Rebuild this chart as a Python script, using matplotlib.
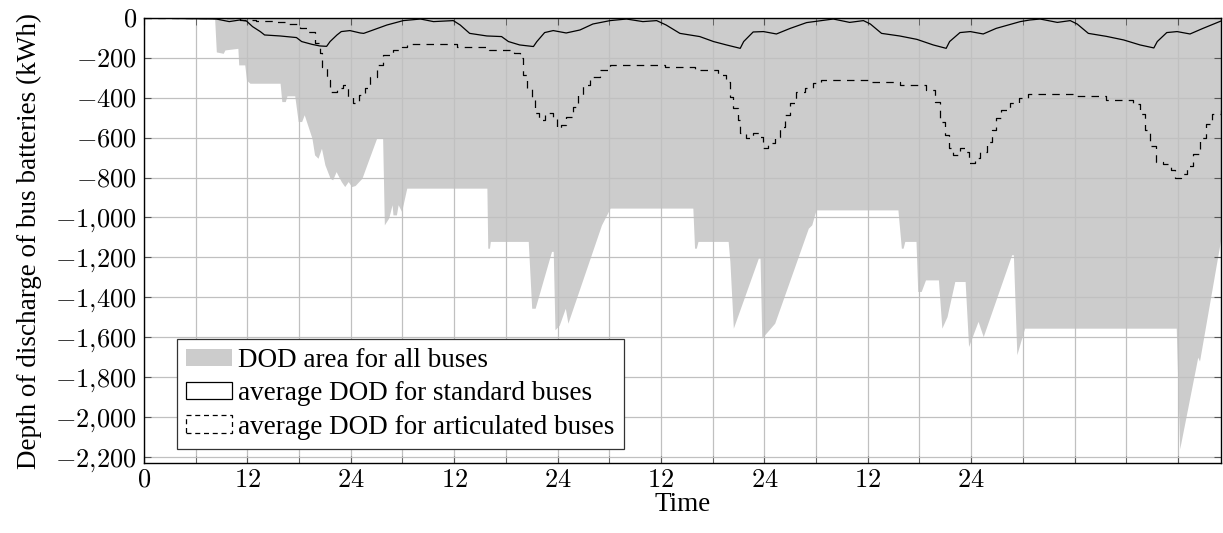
import matplotlib
matplotlib.use("Agg")
import matplotlib.pyplot as plt
from matplotlib.patches import Patch
from matplotlib.ticker import FuncFormatter, MultipleLocator

plt.rcParams['font.family'] = ['Liberation Serif', 'DejaVu Serif']
plt.rcParams['mathtext.fontset'] = 'cm'

# lower envelope of DOD over all buses (hours, kWh)
area_hours = [0, 8.2, 8.4, 9.2, 9.4, 10.9, 11.0, 11.7, 11.9, 12.3, 15.8, 16.0, 16.4, 16.6,
              17.5, 17.9, 18.3, 18.6, 19.5, 19.8, 20.2, 20.6, 21.0, 21.6, 21.9, 22.3, 22.9,
              23.3, 23.7, 24.1, 24.5, 25.3, 26.0, 27.0, 27.7, 27.9, 28.4, 28.8, 28.9, 29.3,
              29.5, 29.9, 30.5, 39.8, 39.9, 40.1, 40.2, 44.6, 45.0, 45.4, 47.3, 47.5, 47.7,
              48.2, 48.9, 49.2, 53.1, 54.1, 63.7, 63.9, 64.1, 64.3, 67.8, 68.0, 68.4, 71.3,
              71.5, 71.7, 73.2, 77.1, 77.5, 78.0, 87.5, 87.9, 88.1, 88.3, 89.6, 89.8, 90.2,
              90.7, 92.2, 92.6, 93.2, 94.1, 95.3, 95.7, 96.8, 97.4, 100.7, 100.9, 101.3,
              102.2, 119.8, 120.2, 122.3, 122.5, 125.0]
area_dod = [0, 0, -170, -177, -160, -152, -235, -235, -311, -327, -327, -419, -419, -390,
            -390, -519, -519, -485, -603, -686, -703, -653, -736, -803, -811, -770, -820,
            -845, -820, -845, -840, -803, -720, -603, -603, -1037, -1003, -936, -987, -987,
            -936, -970, -853, -853, -1154, -1154, -1120, -1120, -1455, -1455, -1170, -1170, -1563,
            -1540, -1455, -1530, -1037, -953, -953, -1154, -1154, -1120, -1120, -1221, -1555, -1204,
            -1204, -1605, -1530, -1054, -1037, -962, -962, -1154, -1154, -1120, -1120, -1371, -1371,
            -1313, -1313, -1555, -1497, -1321, -1321, -1647, -1521, -1597, -1187, -1187, -1688,
            -1555, -1555, -2160, -1700, -1720, -1100]

# average DOD, standard buses
std_hours = [0, 8.4, 9.9, 11.1, 11.9, 12.6, 13.5, 14.0, 15.8, 17.7, 18.3, 19.5, 20.4, 21.2,
             21.6, 22.4, 22.9, 23.9, 25.1, 25.5, 26.6, 28.2, 30.1, 32.1, 33.6, 35.9, 36.7,
             37.8, 39.8, 41.5, 42.3, 43.6, 45.2, 45.6, 46.5, 47.5, 49.0, 50.6, 52.1, 54.1,
             56.0, 57.9, 59.5, 60.6, 62.2, 64.5, 66.1, 67.6, 69.2, 69.6, 70.7, 71.9, 73.4,
             75.0, 76.9, 80.0, 81.9, 83.5, 84.3, 85.6, 87.7, 89.7, 91.6, 93.1, 93.5, 94.7,
             95.9, 97.4, 98.9, 101.7, 102.8, 104.0, 106.0, 107.5, 108.3, 109.6, 111.7, 113.7,
             115.6, 117.2, 117.6, 118.7, 119.9, 121.4, 122.9, 125.0]
std_dod = [0, -5, -18, -10, -15, -43, -68, -85, -90, -98, -118, -132, -140, -142,
           -118, -85, -68, -63, -75, -77, -60, -35, -13, -5, -18, -13, -35,
           -77, -90, -93, -118, -135, -143, -118, -73, -63, -75, -60, -30, -13,
           -5, -18, -13, -35, -77, -93, -118, -135, -152, -118, -70, -68, -80,
           -52, -23, -5, -22, -13, -30, -77, -90, -107, -135, -152, -118, -73,
           -68, -80, -52, -18, -10, -5, -22, -13, -30, -77, -92, -110,
           -135, -150, -118, -73, -68, -80, -52, -15]

# average DOD, articulated buses
art_hours = [0, 11.1, 13.0, 15.0, 16.6, 18.1, 19.0, 19.8, 20.4, 20.7, 21.2, 21.6, 22.4, 23.1,
             23.7, 24.3, 24.9, 25.6, 26.2, 27.0, 27.8, 28.9, 29.9, 30.5, 36.3, 40.0, 42.9,
             43.6, 44.0, 44.5, 45.0, 45.4, 45.8, 46.5, 47.5, 47.9, 48.4, 49.0, 49.8, 50.4,
             51.0, 51.8, 52.9, 54.1, 60.5, 63.9, 66.6, 67.6, 68.0, 68.4, 68.9, 69.2, 69.9,
             70.7, 71.4, 71.9, 72.4, 73.2, 73.8, 74.4, 75.0, 75.7, 76.7, 77.7, 78.6, 84.3,
             87.7, 90.8, 91.8, 92.4, 93.0, 93.4, 93.9, 94.7, 95.3, 95.7, 96.4, 97.0, 97.8,
             98.4, 98.9, 99.5, 100.5, 101.5, 102.6, 108.3, 111.7, 114.8, 115.6, 116.2, 116.8,
             117.5, 118.3, 119.2, 119.7, 120.4, 121.0, 121.8, 122.5, 123.2, 124.0, 125.0]
art_dod = [0, -10, -15, -20, -30, -52, -68, -127, -177, -244, -311, -369, -352, -336,
           -394, -427, -386, -352, -294, -235, -185, -160, -144, -132, -144, -160, -177,
           -202, -286, -352, -411, -477, -510, -477, -494, -553, -536, -494, -444, -386,
           -336, -294, -260, -235, -244, -260, -286, -319, -394, -453, -511, -578, -603,
           -578, -595, -653, -628, -595, -545, -486, -428, -369, -349, -327, -311, -319,
           -336, -361, -419, -519, -586, -653, -686, -653, -670, -728, -703, -670, -620,
           -561, -503, -461, -427, -403, -382, -390, -410, -430, -480, -560, -640,
           -720, -730, -760, -800, -780, -740, -680, -600, -530, -480, -460]

# only nine labels are given; the last two ticks stay unlabelled
x_ticks = [0, 12, 24, 36, 48, 60, 72, 84, 96, 108, 120]
x_labels = ['0', '12', '24', '12', '24', '12', '24', '12', '24', '', '']

fig = plt.figure(figsize=(12.23, 5.33), dpi=100)
ax = fig.add_axes([0.1177, 0.1313, 0.8807, 0.8349])

ax.fill_between(area_hours, area_dod, 0, color='#cccccc', linewidth=0, zorder=1)
ax.plot(std_hours, std_dod, color='black', lw=0.9, zorder=3)
ax.plot(art_hours, art_dod, drawstyle='steps-post', color='black', lw=0.9,
        linestyle=(0, (6, 5)), zorder=3)

ax.set_xlim(0, 125)
ax.set_ylim(-2231, 0)
ax.set_xticks(x_ticks)
ax.set_xticklabels(['$%s$' % s if s else '' for s in x_labels])
ax.xaxis.set_minor_locator(MultipleLocator(6))
ax.yaxis.set_major_locator(MultipleLocator(200))
ax.yaxis.set_major_formatter(FuncFormatter(
    lambda v, p: '$0$' if v == 0 else '$-%s$' % format(int(round(-v)), ',').replace(',', '{,}')))

ax.set_axisbelow('line')
ax.grid(True, which='both', color='#c0c0c0', lw=0.9)
ax.tick_params(which='both', direction='in', top=True, right=True, length=5,
               color='#555555', labelsize=19, pad=5)
for s in ax.spines.values():
    s.set_linewidth(1.0)

ax.set_xlabel('Time', fontsize=19.5, labelpad=0)
ax.set_ylabel('Depth of discharge of bus batteries (kWh)', fontsize=19.5, labelpad=10)

handles = [Patch(facecolor='#cccccc', edgecolor='none'),
           Patch(facecolor='white', edgecolor='black', lw=0.9),
           Patch(facecolor='white', edgecolor='black', lw=0.9, linestyle=(0, (4, 3)))]
labels = ['DOD area for all buses', 'average DOD for standard buses',
          'average DOD for articulated buses']
leg = ax.legend(handles, labels, loc='lower left', bbox_to_anchor=(0.0306, 0.0315),
                borderaxespad=0, fontsize=19.5, fancybox=False, framealpha=1,
                edgecolor='#333333', handlelength=1.7, handleheight=0.6,
                handletextpad=0.2, labelspacing=0.3, borderpad=0.35)
leg.get_frame().set_linewidth(0.9)

fig.savefig('out.png', dpi=100)
